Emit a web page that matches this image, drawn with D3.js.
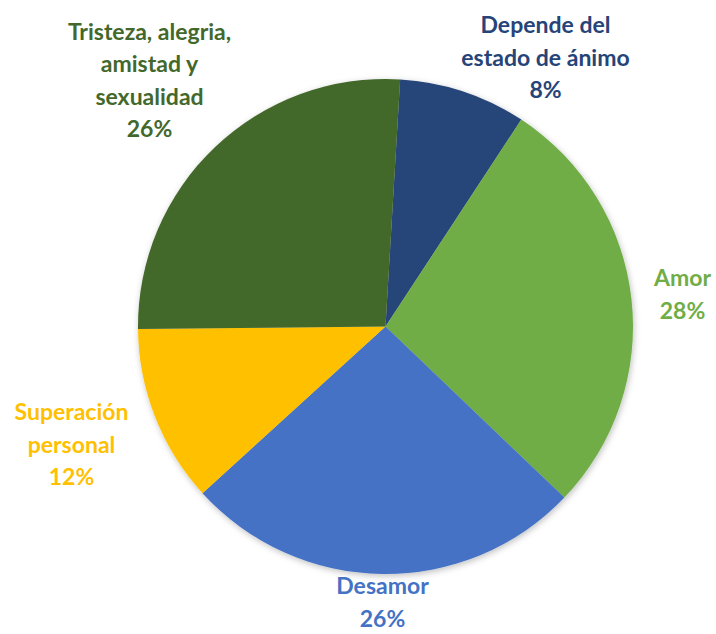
<!DOCTYPE html>
<html lang="es">
<head>
    <meta charset="UTF-8">
    <title>Pie</title>
    <script src="https://cdn.jsdelivr.net/npm/d3@7"></script>
    <style>
        body { margin: 0; background: #fff; }
        .lbl text {
            font: bold 23px Lato, "Open Sans", sans-serif;
            text-anchor: middle;
            dominant-baseline: central;
        }
    </style>
</head>
<body>
<svg width="716" height="634"></svg>
<script>
    // data
    var categories = ["Depende del estado de ánimo", "Amor", "Desamor", "Superación personal", "Tristeza, alegria, amistad y sexualidad"];
    var values = [8.3, 27.9, 26.1, 11.6, 26.1];
    var colors = ["#264478", "#70AD47", "#4472C4", "#FFC000", "#43682B"];
    // how each label is broken into lines
    var labelLines = [
        ["Depende del", "estado de ánimo"],
        ["Amor"],
        ["Desamor"],
        ["Superación", "personal"],
        ["Tristeza, alegria,", "amistad y", "sexualidad"]
    ];

    // layout
    var cx = 385.5, cy = 326.5, radius = 247.5;
    var firstAngle = 3.4 * Math.PI / 180;
    var lineH = 32.5;
    // label block centres, relative to pie centre
    var labelPos = [[160, -270], [297, -33], [-3, 275], [-314, 117], [-236, -247]];

    var svg = d3.select("svg");
    var defs = svg.append("defs");
    var f = defs.append("filter").attr("id", "shadow")
        .attr("x", "-10%").attr("y", "-10%").attr("width", "120%").attr("height", "120%");
    f.append("feDropShadow").attr("dx", 1).attr("dy", 2).attr("stdDeviation", 3)
        .attr("flood-color", "#000").attr("flood-opacity", 0.25);

    var data = categories.map(function(c, i) { return { name: c, value: values[i], i: i }; });
    var total = d3.sum(values);

    var pie = d3.pie().sort(null).value(function(d) { return d.value; })
        .startAngle(firstAngle).endAngle(firstAngle + 2 * Math.PI);
    var arc = d3.arc().innerRadius(0).outerRadius(radius);

    var g = svg.append("g").attr("transform", "translate(" + cx + "," + cy + ")");

    g.append("g").attr("filter", "url(#shadow)")
        .selectAll("path")
        .data(pie(data))
        .enter()
        .append("path")
        .attr("d", arc)
        .attr("fill", function(d) { return colors[d.data.i]; });

    var fmt = d3.format(".0%");
    var lbl = g.selectAll(".lbl")
        .data(data)
        .enter()
        .append("g")
        .attr("class", "lbl")
        .attr("fill", function(d) { return colors[d.i]; });

    lbl.each(function(d) {
        var lines = labelLines[d.i].concat([fmt(d.value / total)]);
        var p = labelPos[d.i];
        var y0 = p[1] - (lines.length - 1) * lineH / 2;
        d3.select(this).selectAll("text")
            .data(lines)
            .enter()
            .append("text")
            .attr("x", p[0])
            .attr("y", function(t, k) { return y0 + k * lineH; })
            .text(function(t) { return t; });
    });
</script>
</body>
</html>
